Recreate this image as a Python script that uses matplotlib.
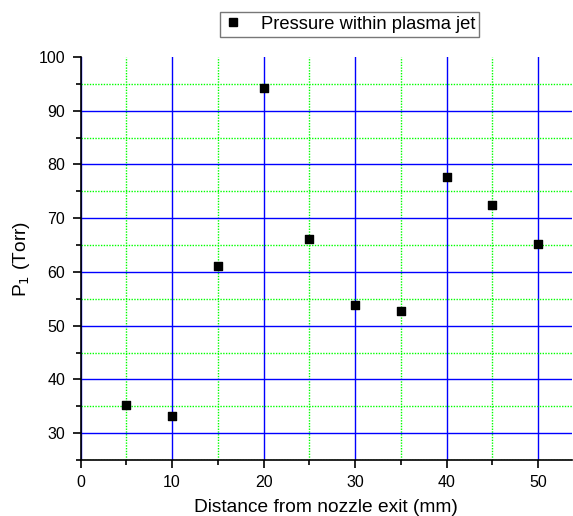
import matplotlib
matplotlib.use("Agg")
import matplotlib.pyplot as plt
from matplotlib.ticker import MultipleLocator
from matplotlib.lines import Line2D

plt.rcParams['font.family'] = ['Liberation Sans', 'DejaVu Sans']

distance = [5, 10, 15, 20, 25, 30, 35, 40, 45, 50]
pressure = [35.3, 33.1, 61.1, 94.2, 66.2, 53.8, 52.8, 77.6, 72.4, 65.2]
series_label = "Pressure within plasma jet"
xlabel = "Distance from nozzle exit (mm)"
ylabel = "P$_1$ (Torr)"

fig = plt.figure(figsize=(5.73, 5.16), dpi=100)
ax = fig.add_axes([0.1405, 0.1085, 0.858, 0.781])

ax.set_xlim(0, 53.7)
ax.set_ylim(25, 100)
ax.xaxis.set_major_locator(MultipleLocator(10))
ax.xaxis.set_minor_locator(MultipleLocator(5))
ax.yaxis.set_major_locator(MultipleLocator(10))
ax.yaxis.set_minor_locator(MultipleLocator(5))

ax.grid(True, which='major', color='#0000ff', linewidth=1.0, linestyle='-')
ax.grid(True, which='minor', color='#00ff00', linewidth=1.0, linestyle=(0, (1, 1)))
ax.set_axisbelow(True)

fig.canvas.draw()
for line, val in zip(ax.yaxis.get_gridlines(), ax.yaxis.get_majorticklocs()):
    if abs(val - 100) < 1e-6:
        line.set_visible(False)

ax.scatter(distance, pressure, marker='s', s=40, color='black', zorder=3)

for s in ['top', 'right']:
    ax.spines[s].set_visible(False)
for s in ['left', 'bottom']:
    ax.spines[s].set_linewidth(1.2)

ax.tick_params(which='major', direction='out', length=6, width=1.2, labelsize=11.5, pad=5)
ax.tick_params(which='minor', direction='out', length=3.5, width=1.2)

ax.set_xlabel(xlabel, fontsize=13.8, labelpad=6)
ax.set_ylabel(ylabel, fontsize=13.8, labelpad=5)

handle = Line2D([], [], marker='s', linestyle='none', color='black', markersize=6)
fig.legend([handle], [series_label], loc='upper left', bbox_to_anchor=(0.384, 0.977),
           borderaxespad=0.0,
           frameon=True, fancybox=False, edgecolor='#555555', fontsize=13.2,
           handletextpad=1.0, borderpad=0.22, handlelength=1.0)

fig.savefig("out.png", dpi=100)
